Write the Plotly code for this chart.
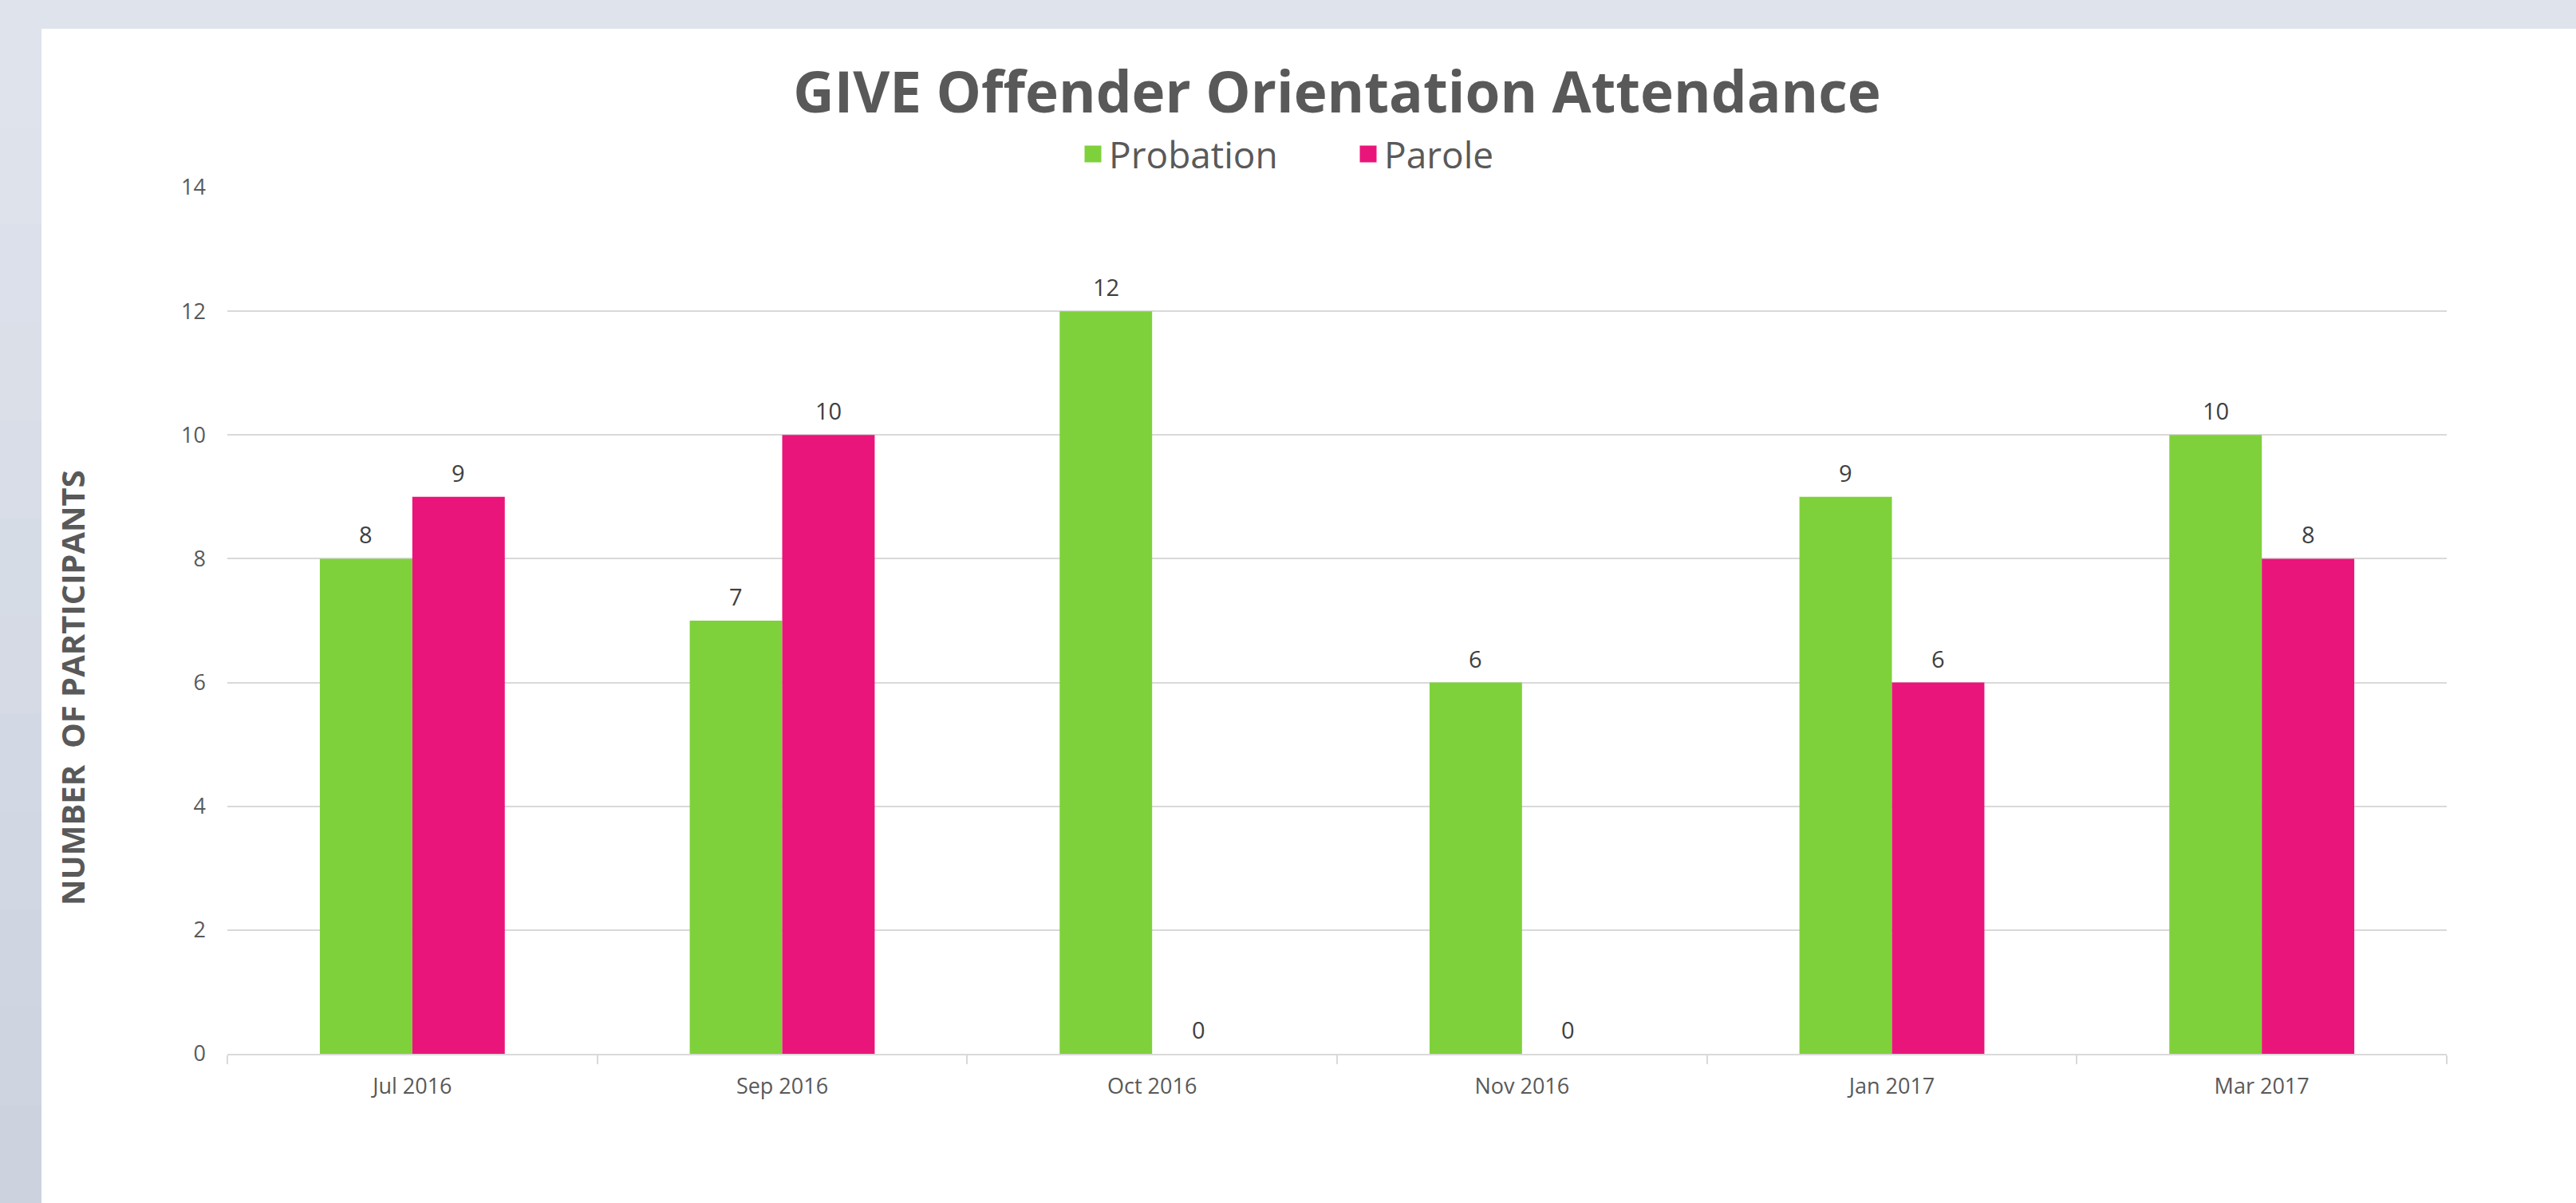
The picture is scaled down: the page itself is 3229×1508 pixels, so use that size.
import plotly.graph_objects as go

categories = ["Jul 2016", "Sep 2016", "Oct 2016", "Nov 2016", "Jan 2017", "Mar 2017"]
probation = [8, 7, 12, 6, 9, 10]
parole = [9, 10, 0, 0, 6, 8]
y_ticks = [0, 2, 4, 6, 8, 10, 12, 14]
series_names = ["Probation", "Parole"]

TITLE = "GIVE Offender Orientation Attendance"
Y_TITLE = "NUMBER\u00a0 OF PARTICIPANTS"

GREEN = "#7FD13B"
PINK = "#EA157A"
TXT = "#595959"
GRID = "#D9D9D9"
FONT = "Open Sans"

W, H = 3229, 1508
L, R, T, B = 285, W - 3067, 235, H - 1321
pw, ph = W - L - R, H - T - B

def px_x(p):
    return (p - L) / pw

def px_y(p):
    return (H - B - p) / ph

fig = go.Figure()
for name, vals, col in zip(series_names, [probation, parole], [GREEN, PINK]):
    fig.add_trace(go.Bar(name=name, x=categories, y=vals, legendgroup=name, showlegend=False,
                         marker=dict(color=col, line=dict(width=0))))
# legend entries with larger square swatches
for name, col in zip(series_names, [GREEN, PINK]):
    fig.add_trace(go.Scatter(name=name, x=[None], y=[None], mode="markers", legendgroup=name,
                             marker=dict(symbol="square", size=16, color=col,
                                         line=dict(width=5, color=col))))

# data labels
n_series = 2
group_w = 0.5
bw = group_w / n_series
annotations = []
for s, vals in enumerate([probation, parole]):
    off = -group_w / 2 + bw * (s + 0.5)
    for i, v in enumerate(vals):
        annotations.append(dict(
            x=i + off, y=v, xref="x", yref="y", text=str(v), showarrow=False,
            yanchor="bottom", xanchor="center", yshift=9,
            font=dict(family=FONT, size=29, color="#404040")))

annotations.append(dict(
    x=px_x(90), y=px_y(862), xref="paper", yref="paper", text=Y_TITLE, textangle=-90,
    showarrow=False, xanchor="center", yanchor="middle",
    font=dict(family=FONT, size=40, color=TXT, weight="bold")))

shapes = []
bands = 12
top_c = (223, 227, 236)
bot_c = (204, 211, 223)
for k in range(bands):
    f = k / (bands - 1)
    c = tuple(round(top_c[j] + (bot_c[j] - top_c[j]) * f) for j in range(3))
    y0 = 36 + (H - 36) * k / bands
    y1 = 36 + (H - 36) * (k + 1) / bands + 1
    shapes.append(dict(type="rect", xref="paper", yref="paper", layer="below",
                       x0=px_x(-2), x1=px_x(52), y0=px_y(y1), y1=px_y(y0),
                       fillcolor="rgb(%d,%d,%d)" % c, line=dict(width=0)))
shapes.append(dict(type="rect", xref="paper", yref="paper", layer="below",
                   x0=px_x(52), x1=px_x(W + 2), y0=px_y(H + 2), y1=px_y(36),
                   fillcolor="white", line=dict(width=0)))

fig.update_layout(
    width=W, height=H,
    margin=dict(l=L, r=R, t=T, b=B, autoexpand=False),
    paper_bgcolor="rgb(223,227,236)",
    plot_bgcolor="white",
    barmode="group", bargap=0.5, bargroupgap=0,
    font=dict(family=FONT, color=TXT),
    title=dict(text=TITLE, x=0.5, xref="paper", xanchor="center",
               y=1 - 116 / H, yref="container", yanchor="middle",
               font=dict(family=FONT, size=71, color=TXT, weight="bold")),
    legend=dict(orientation="h", x=px_x(1350), y=px_y(193), xanchor="left", yanchor="middle",
                font=dict(family=FONT, size=46, color=TXT), bgcolor="rgba(0,0,0,0)",
                entrywidth=300, itemwidth=30, traceorder="normal"),
    showlegend=True,
    xaxis=dict(type="category", showgrid=False, showline=True, linecolor=GRID, linewidth=2,
               ticks="outside", tickson="boundaries", ticklen=11, tickcolor=GRID, tickwidth=2,
               tickfont=dict(family=FONT, size=27, color=TXT), ticklabelstandoff=16),
    yaxis=dict(range=[0, 14], tickvals=y_ticks, showgrid=True, gridcolor=GRID, gridwidth=2,
               zeroline=False, showline=False, ticks="", ticklabelstandoff=26,
               tickfont=dict(family=FONT, size=27, color=TXT)),
    annotations=annotations,
    shapes=shapes,
)

fig.write_html("out.html", config={"displayModeBar": False},
               post_script="document.body.style.margin='0';document.body.style.overflow='hidden';")
